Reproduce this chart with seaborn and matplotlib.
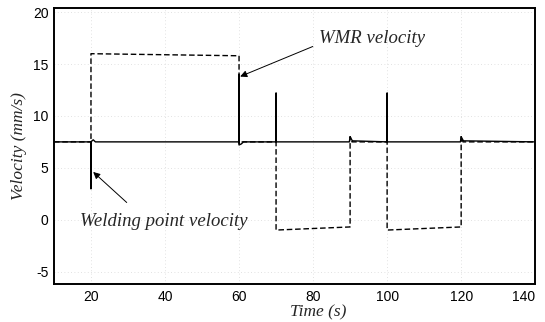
import matplotlib
matplotlib.use("Agg")
import matplotlib.pyplot as plt
import seaborn as sns
import pandas as pd

# Welding point velocity (solid)
weld_t = [10, 20, 20, 20, 20.6, 21.2, 60, 60, 60, 60.6, 61.2, 70, 70, 70,
          89.8, 90, 90.6, 100, 100, 100, 119.8, 120, 120.6, 140]
weld_v = [7.5, 7.5, 3.0, 7.5, 7.7, 7.5, 7.5, 14.0, 7.2, 7.3, 7.5, 7.5, 12.2, 7.5,
          7.5, 8.0, 7.6, 7.5, 12.2, 7.5, 7.5, 8.0, 7.6, 7.5]

# WMR velocity (dashed)
wmr_t = [10, 20, 20, 20, 60, 60, 60.5, 70, 70, 90, 90, 90.5, 100, 100, 120, 120, 120.5, 140]
wmr_v = [7.5, 7.5, 3.0, 16.0, 15.8, 7.3, 7.5, 7.5, -1.0, -0.7, 8.0, 7.5, 7.5, -1.0, -0.7, 8.0, 7.5, 7.5]

x_ticks = [20, 40, 60, 80, 100, 120, 140]
y_ticks = [-5, 0, 5, 10, 15, 20]

sns.set_theme(style="white")
plt.rcParams['font.family'] = ['Liberation Sans', 'DejaVu Sans']
plt.rcParams['axes.unicode_minus'] = False

fig = plt.figure(figsize=(5.45, 3.22), dpi=100)
ax = fig.add_axes([0.099, 0.118, 0.883, 0.857])

df_w = pd.DataFrame({"t": weld_t, "v": weld_v})
df_r = pd.DataFrame({"t": wmr_t, "v": wmr_v})

sns.lineplot(data=df_w, x="t", y="v", sort=False, estimator=None, ax=ax,
             color="black", linewidth=1.0)
sns.lineplot(data=df_r, x="t", y="v", sort=False, estimator=None, ax=ax,
             color="black", linewidth=1.0, linestyle=(0, (4, 2)))

ax.set_xlim(10, 140)
ax.set_ylim(-6.2, 20.4)
ax.set_xticks(x_ticks)
ax.set_yticks(y_ticks)
ax.tick_params(labelsize=10, colors="black", length=2, direction="in", pad=4)
labels = ax.get_xticklabels()
labels[-1].set_horizontalalignment("right")
labels[-1].set_x(0)
ax.grid(True, linestyle=(0, (1, 3)), color="#d8d8d8", linewidth=0.6)
for s in ax.spines.values():
    s.set_color("black")
    s.set_linewidth(1.4)

serif = dict(family=['Liberation Serif', 'DejaVu Serif'], style="italic")
ax.set_xlabel("Time (s)", fontsize=12.5, labelpad=1, **serif)
ax.set_ylabel("Velocity (mm/s)", fontsize=12.5, labelpad=4, **serif)
ax.xaxis.set_label_coords(0.55, -0.075)

ax.annotate("WMR velocity", xy=(60.3, 13.8), xytext=(81.5, 16.6),
            fontsize=13.5, ha="left", va="bottom", **serif,
            arrowprops=dict(arrowstyle="-|>", color="black", lw=0.7,
                            shrinkA=2, shrinkB=0, mutation_scale=10,
                            relpos=(0.0, 0.2)))
ax.annotate("Welding point velocity", xy=(20.6, 4.6), xytext=(17, -0.2),
            fontsize=13.5, ha="left", va="center", **serif,
            arrowprops=dict(arrowstyle="-|>", color="black", lw=0.7,
                            shrinkA=8, shrinkB=0, mutation_scale=10,
                            relpos=(0.35, 1.0)))

fig.savefig("out.png", dpi=100)
